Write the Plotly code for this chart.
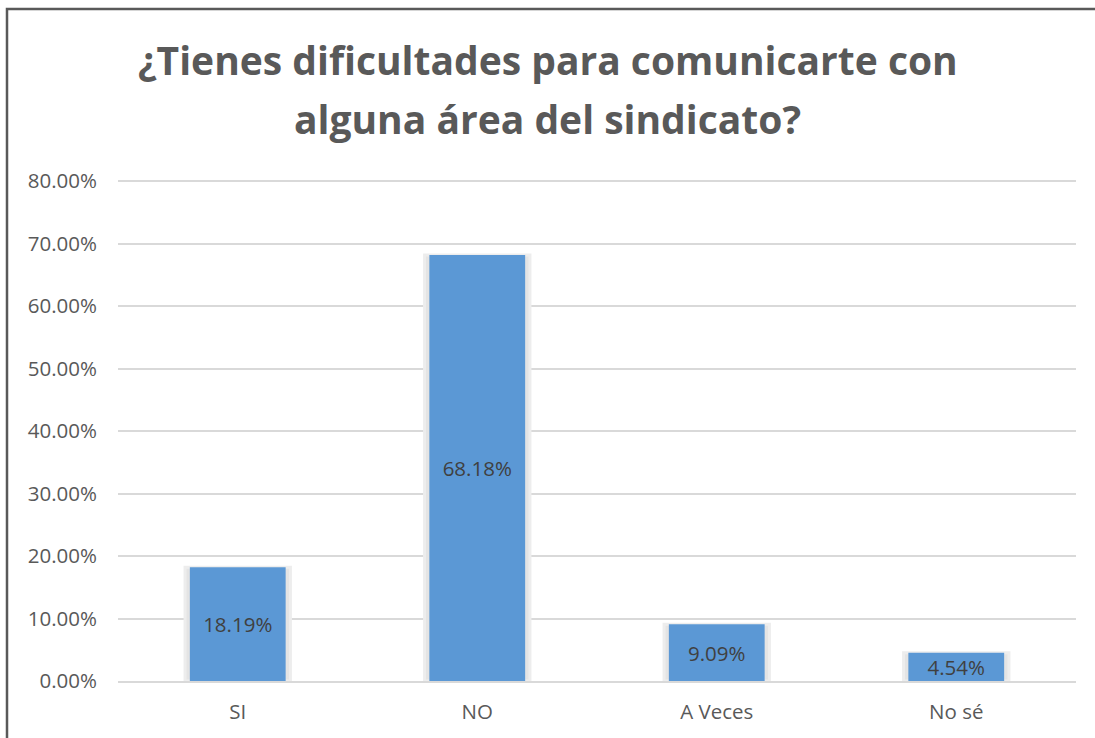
import plotly.graph_objects as go

categories = ["SI", "NO", "A Veces", "No sé"]
values = [0.1819, 0.6818, 0.0909, 0.0454]
labels = ["18.19%", "68.18%", "9.09%", "4.54%"]
title_lines = ["¿Tienes dificultades para comunicarte con", "alguna área del sindicato?"]
y_ticks = [0, 0.1, 0.2, 0.3, 0.4, 0.5, 0.6, 0.7, 0.8]

FONT = "Open Sans"
W, H = 1095, 738
Y_MAX = 0.81
L, R, B = 118, 19, 57
T = round(H - B - 500 * Y_MAX / 0.8)
pw, ph = W - L - R, H - T - B

fig = go.Figure()
# soft glow behind bars
fig.add_trace(go.Bar(
    x=categories, y=values, width=0.44,
    marker=dict(color="#e4e4e4", line=dict(color="#ededed", width=3)),
    hoverinfo="skip", showlegend=False,
))
fig.add_trace(go.Bar(
    x=categories, y=values, width=0.40,
    marker=dict(color="#5b98d5", line=dict(width=0)),
    text=labels, textposition="inside", insidetextanchor="middle",
    textfont=dict(family=FONT, size=20.5, color="#404040"),
    showlegend=False,
))

fig.update_layout(
    width=W, height=H,
    margin=dict(l=L, r=R, t=T, b=B),
    paper_bgcolor="white", plot_bgcolor="white",
    barmode="overlay",
    uniformtext=dict(minsize=20.5, mode="show"),
    font=dict(family=FONT, color="#595959"),
)
# two-line title
for line, ypx in zip(title_lines, [60, 118]):
    fig.add_annotation(
        text=line, showarrow=False,
        xref="paper", yref="paper",
        x=(W / 2 - L) / pw, y=(H - B - ypx) / ph,
        xanchor="center", yanchor="middle",
        font=dict(family=FONT, size=39, color="#595959", weight="bold"),
    )
fig.update_yaxes(
    range=[0, Y_MAX], tickvals=y_ticks, tickformat=".2%",
    showgrid=True, gridcolor="#d9d9d9", gridwidth=1.5,
    zeroline=False, showline=False, ticks="",
    ticklabelstandoff=20,
    tickfont=dict(family=FONT, size=20.5, color="#595959"),
)
fig.update_xaxes(
    showgrid=False, showline=True, linecolor="#d9d9d9", linewidth=1.5,
    ticks="", tickfont=dict(family=FONT, size=20.5, color="#595959"),
    ticklabelstandoff=12,
)
# chart border (extends beyond the right and bottom edges as in the reference)
fig.add_shape(
    type="rect", xref="paper", yref="paper",
    x0=(7 - L) / pw, x1=(W + 10 - L) / pw,
    y0=-(B + 10) / ph, y1=(H - 9 - B) / ph,
    line=dict(color="#595959", width=2.5), fillcolor="rgba(0,0,0,0)",
    layer="above",
)
fig.write_html("out.html", config={"displayModeBar": False},
               post_script="document.body.style.margin='0';")
